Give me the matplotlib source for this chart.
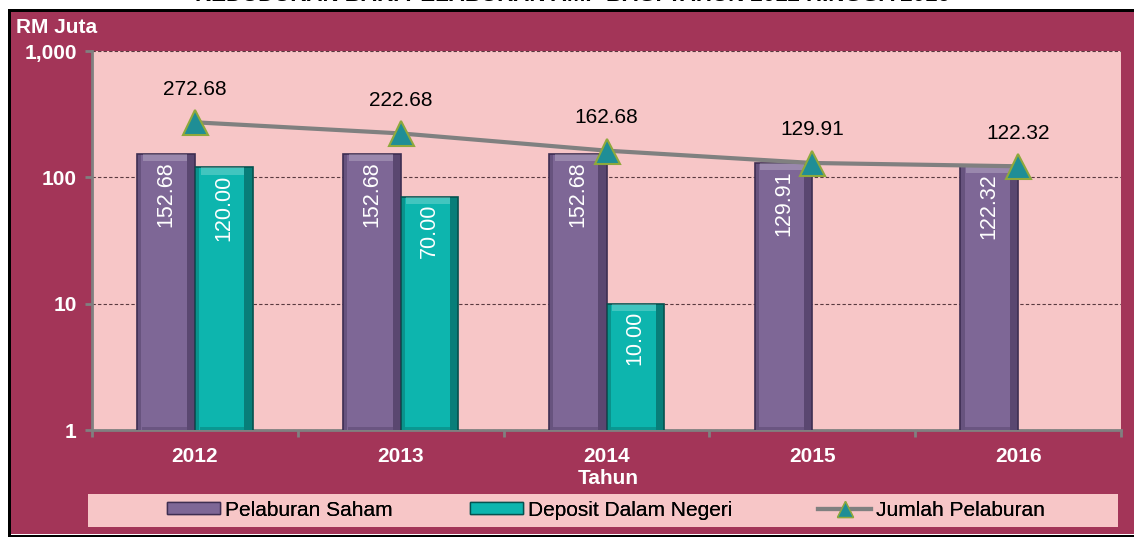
import matplotlib.pyplot as plt
from matplotlib.patches import Rectangle, Patch
from matplotlib.lines import Line2D
import numpy as np

plt.rcParams['font.family'] = ['Liberation Sans', 'DejaVu Sans']

# data
tahun = ['2012', '2013', '2014', '2015', '2016']
saham = [152.68, 152.68, 152.68, 129.91, 122.32]
deposit = [120.00, 70.00, 10.00, None, None]
jumlah = [272.68, 222.68, 162.68, 129.91, 122.32]
siri = ['Pelaburan Saham', 'Deposit Dalam Negeri', 'Jumlah Pelaburan']

maroon = '#A33558'
pink = '#F7C6C7'
ungu = '#7E6796'
hijau = '#0DB5AE'

fig = plt.figure(figsize=(11.34, 5.37), dpi=100, facecolor='white')

# bingkai latar
fig.patches.append(Rectangle((11 / 1134, 3 / 537), 1 - 11 / 1134, 1 - 3 / 537 - 12 / 537,
                             transform=fig.transFigure, facecolor=maroon,
                             edgecolor='none', zorder=-3))
fig.patches.append(Rectangle((8 / 1134, 2 / 537), 3 / 1134, 1 - 2 / 537 - 9 / 537,
                             transform=fig.transFigure, facecolor='black', zorder=-2))
fig.patches.append(Rectangle((8 / 1134, 1 - 12 / 537), 1, 3 / 537,
                             transform=fig.transFigure, facecolor='black', zorder=-2))
fig.patches.append(Rectangle((8 / 1134, 0), 1, 2.5 / 537,
                             transform=fig.transFigure, facecolor='black', zorder=-2))
fig.patches.append(Rectangle((88 / 1134, 1 - 527 / 537), (1118 - 88) / 1134, 33 / 537,
                             transform=fig.transFigure, facecolor=pink, edgecolor='none',
                             zorder=-1))

fig.text(0.505, 1 - 6 / 537, 'KEDUDUKAN BAKI PELABURAN AMP BAGI TAHUN 2012 HINGGA 2016',
         ha='center', va='bottom', fontsize=16, fontweight='bold', color='black')

ax = fig.add_axes([92 / 1134, 1 - 430 / 537, (1121 - 92) / 1134, (430 - 51) / 537])
ax.set_zorder(2)
ax.set_facecolor(pink)
ax.set_yscale('log')
ax.set_ylim(1, 1000)
ax.set_xlim(-0.5, len(tahun) - 0.5)

x = np.arange(len(tahun))
w = 0.28

def bar3d(xs, vals, warna, gelap):
    bs = ax.bar(xs, vals, width=w, color=warna, edgecolor=gelap, linewidth=1.2, zorder=3)
    for b in bs:
        bx, bw, bh = b.get_x(), b.get_width(), b.get_height()
        # sisi gelap dan sorotan atas
        ax.add_patch(Rectangle((bx + bw * 0.86, 1), bw * 0.14, bh - 1, facecolor=gelap,
                               alpha=0.55, edgecolor='none', zorder=3.2))
        ax.add_patch(Rectangle((bx, 1), bw * 0.07, bh - 1, facecolor=gelap,
                               alpha=0.35, edgecolor='none', zorder=3.2))
        ax.add_patch(Rectangle((bx + bw * 0.08, 1), bw * 0.78, 0.06, facecolor=gelap,
                               alpha=0.3, edgecolor='none', zorder=3.2))
        ax.add_patch(Rectangle((bx + bw * 0.1, bh / 1.14), bw * 0.76, bh - bh / 1.14,
                               facecolor='white', alpha=0.22, edgecolor='none', zorder=3.3))
    return bs

bar3d(x - w / 2, saham, ungu, '#3E2E52')
xd = [x[i] + w / 2 for i in range(len(tahun)) if deposit[i] is not None]
vd = [v for v in deposit if v is not None]
bar3d(xd, vd, hijau, '#05524F')

for xi, v in zip(x - w / 2, saham):
    ax.text(xi, v / 1.14, f'{v:.2f}', rotation=90, ha='center', va='top',
            color='white', fontsize=15.5, zorder=5)
for xi, v in zip(xd, vd):
    ax.text(xi, v / 1.14, f'{v:.2f}', rotation=90, ha='center', va='top',
            color='white', fontsize=15.5, zorder=5)

ax.plot(x, jumlah, color='#808080', linewidth=3, zorder=4)
ax.plot(x, jumlah, linestyle='none', marker='^', markersize=18, markerfacecolor='#1F8E96',
        markeredgecolor='#8FA83C', markeredgewidth=1.5, zorder=4.5)
for xi, v in zip(x, jumlah):
    ax.annotate(f'{v:.2f}', (xi, v), xytext=(0, 17), textcoords='offset points',
                ha='center', va='bottom', fontsize=15, color='black', zorder=5)

ax.grid(axis='y', which='major', linestyle=(0, (3, 2)), color='#5A3A40', linewidth=0.8)
ax.set_axisbelow(True)
ax.set_yticks([1, 10, 100, 1000])
ax.set_yticklabels(['1', '10', '100', '1,000'])
ax.minorticks_off()
ax.set_xticks(x)
ax.set_xticklabels(tahun)
ax.set_xticks(np.arange(-0.5, len(tahun)), minor=True)
ax.tick_params(axis='x', which='major', length=0, pad=12)
ax.tick_params(axis='x', which='minor', length=5, color='#808080', width=2)
ax.tick_params(axis='y', length=5, color='#808080', width=2, pad=6)
for lbl in ax.get_xticklabels() + ax.get_yticklabels():
    lbl.set_color('white')
    lbl.set_fontweight('bold')
    lbl.set_fontsize(15)
for s in ['top', 'right']:
    ax.spines[s].set_visible(False)
for s in ['left', 'bottom']:
    ax.spines[s].set_color('#808080')
    ax.spines[s].set_linewidth(2)

fig.text(16 / 1134, 1 - 28 / 537, 'RM Juta', ha='left', va='center', color='white',
         fontsize=15, fontweight='bold')
fig.text(608 / 1134, 1 - 478 / 537, 'Tahun', ha='center', va='center', color='white',
         fontsize=15, fontweight='bold')

# legenda, satu per entri supaya kedudukannya sama
handles = [Patch(facecolor=ungu, edgecolor='#3E2E52'),
           Patch(facecolor=hijau, edgecolor='#05524F'),
           Line2D([], [], color='#808080', linewidth=3, marker='^', markersize=11,
                  markerfacecolor='#1F8E96', markeredgecolor='#8FA83C')]
mula = [167, 470, 818]
for h, nama, px in zip(handles, siri, mula):
    lg = fig.legend([h], [nama], loc='center left',
                    bbox_to_anchor=(px / 1134, 1 - 510 / 537), fontsize=15,
                    frameon=False, handlelength=2.55, handleheight=0.55,
                    handletextpad=0.25, borderpad=0, borderaxespad=0)
    fig.add_artist(lg)

fig.savefig('out.png', dpi=100, facecolor='white')
